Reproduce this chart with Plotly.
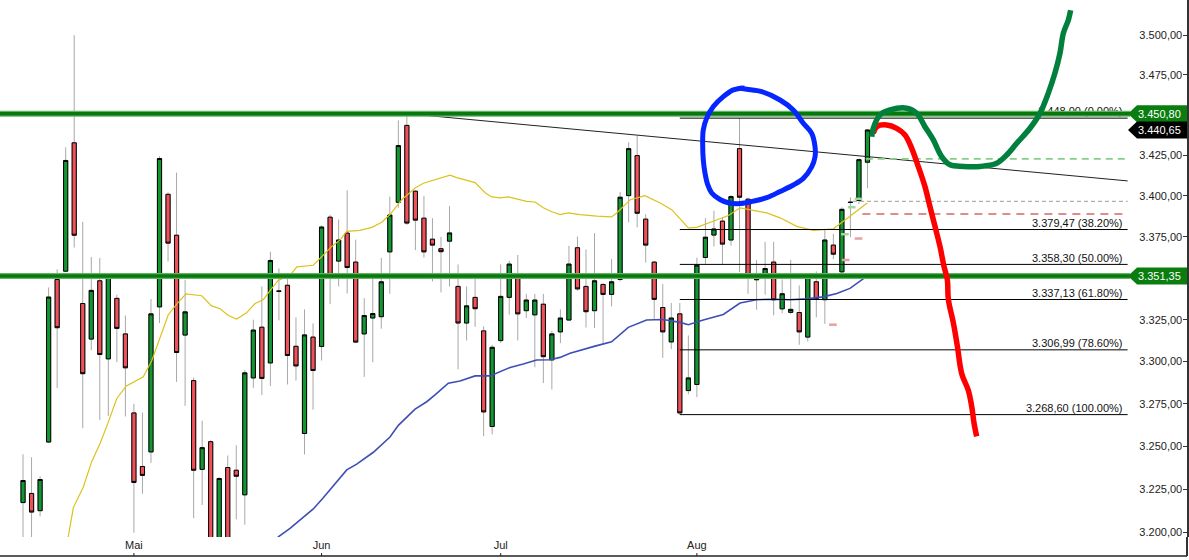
import math
import pandas as pd
import plotly.graph_objects as go

# ---------------- data ----------------
dates = [d.strftime("%Y-%m-%d") for d in pd.bdate_range("2025-04-11", "2025-08-29")
         if d.strftime("%Y-%m-%d") != "2025-04-18"]

opens = [3217.2, 3222.5, 3212.5, 3252.5, 3349.2, 3354.2, 3432.7, 3334.7, 3313.4, 3348.4,
         3301.6, 3337.8, 3316.5, 3269.6, 3238.2, 3246.7, 3332.7, 3401.0, 3376.0, 3315.8,
         3288.7, 3236.5, 3252.7, 3180.0, 3237.6, 3236.0, 3221.7, 3290.3, 3320.5, 3299.2,
         3342.3, 3345.7, 3309.1, 3257.5, 3314.6, 3309.0, 3387.0, 3360.3, 3377.3, 3359.7,
         3316.5, 3326.0, 3326.8, 3365.9, 3396.1, 3443.5, 3402.9, 3386.4, 3373.6, 3367.8,
         3372.4, 3345.0, 3323.0, 3338.4, 3318.3, 3261.6, 3312.5, 3338.4, 3351.1, 3330.4,
         3327.9, 3334.3, 3301.0, 3317.7, 3324.8, 3368.4, 3345.0, 3330.4, 3346.2, 3340.2,
         3349.2, 3400.2, 3424.8, 3385.8, 3359.7, 3332.3, 3311.7, 3328.5, 3282.8, 3286.4,
         3362.5, 3376.1, 3384.6, 3373.1, 3429.1, 3398.0, 3350.0, 3351.7, 3359.7, 3331.5,
         3329.4, 3329.3, 3314.6, 3347.8, 3337.0, 3370.0, 3353.8, 3396.2, 3397.2, 3420.7]
highs = [3245.3, 3243.6, 3232.5, 3344.4, 3355.3, 3429.9, 3500.0, 3384.2, 3362.8, 3362.2,
         3351.8, 3340.0, 3327.5, 3275.0, 3269.8, 3337.4, 3424.4, 3402.2, 3414.3, 3349.0,
         3290.5, 3265.0, 3253.5, 3231.8, 3244.6, 3250.6, 3295.0, 3325.0, 3345.0, 3366.0,
         3355.9, 3350.0, 3326.4, 3331.2, 3322.8, 3382.0, 3388.5, 3385.5, 3403.5, 3373.3,
         3338.0, 3349.6, 3362.2, 3399.6, 3446.6, 3450.8, 3403.5, 3400.0, 3386.4, 3375.0,
         3393.8, 3358.3, 3345.0, 3351.0, 3321.0, 3310.0, 3358.3, 3360.5, 3364.0, 3340.5,
         3340.5, 3340.5, 3318.4, 3331.2, 3369.6, 3375.2, 3367.3, 3377.3, 3346.8, 3361.6,
         3402.4, 3433.0, 3437.0, 3388.8, 3360.3, 3346.4, 3335.0, 3335.0, 3315.6, 3362.4,
         3386.4, 3390.9, 3387.0, 3400.6, 3448.0, 3399.0, 3361.0, 3372.0, 3372.0, 3349.2,
         3361.0, 3345.6, 3351.7, 3354.1, 3379.5, 3376.8, 3393.0, 3399.1, 3423.0, 3441.0]
lows = [3190.0, 3190.0, 3209.2, 3252.0, 3284.3, 3353.6, 3368.5, 3260.6, 3306.8, 3265.5,
        3267.8, 3299.6, 3267.5, 3199.8, 3222.3, 3240.3, 3323.0, 3360.0, 3287.9, 3273.8,
        3208.2, 3215.8, 3165.0, 3125.0, 3155.0, 3207.5, 3204.4, 3284.4, 3280.2, 3285.5,
        3324.6, 3286.4, 3288.7, 3245.2, 3271.5, 3300.6, 3334.3, 3345.0, 3340.7, 3311.0,
        3290.9, 3299.6, 3319.6, 3340.5, 3392.8, 3382.3, 3367.0, 3362.4, 3348.0, 3341.4,
        3345.0, 3295.4, 3312.6, 3320.7, 3255.9, 3257.0, 3311.0, 3328.0, 3312.6, 3326.0,
        3296.6, 3287.3, 3283.4, 3311.0, 3324.5, 3342.4, 3320.3, 3320.0, 3310.0, 3333.0,
        3348.0, 3383.8, 3380.8, 3359.4, 3325.4, 3302.2, 3307.4, 3268.6, 3280.6, 3278.9,
        3357.9, 3369.2, 3358.5, 3369.6, 3353.6, 3340.5, 3331.0, 3340.0, 3327.6, 3328.9,
        3328.5, 3310.0, 3312.0, 3326.4, 3322.5, 3361.5, 3350.6, 3374.8, 3395.0, 3404.7]
closes = [3230.0, 3211.7, 3230.6, 3338.6, 3320.2, 3421.8, 3376.0, 3292.8, 3342.6, 3304.2,
          3351.2, 3319.8, 3296.3, 3228.9, 3233.0, 3328.5, 3423.0, 3371.2, 3305.4, 3329.7,
          3236.0, 3249.2, 3178.0, 3231.2, 3190.0, 3232.5, 3293.3, 3318.8, 3290.0, 3360.7,
          3342.0, 3303.6, 3297.4, 3315.9, 3294.7, 3381.0, 3351.9, 3373.1, 3356.4, 3311.6,
          3327.5, 3328.7, 3347.8, 3388.3, 3431.0, 3383.4, 3385.2, 3365.9, 3370.0, 3366.0,
          3377.4, 3323.0, 3333.3, 3331.6, 3270.2, 3308.5, 3339.0, 3358.5, 3328.5, 3336.8,
          3336.8, 3302.9, 3316.5, 3326.0, 3358.5, 3343.5, 3329.8, 3348.4, 3340.2, 3347.8,
          3399.2, 3429.1, 3389.4, 3370.0, 3337.2, 3317.7, 3326.0, 3269.6, 3290.3, 3357.9,
          3374.8, 3379.8, 3370.6, 3399.6, 3399.2, 3351.7, 3349.0, 3355.8, 3337.0, 3340.6,
          3331.2, 3317.7, 3350.5, 3337.6, 3373.1, 3364.5, 3391.8, 3396.0, 3422.3, 3440.65]

# moving averages (read points: candle position, value)
ma_fast_x = [5.0, 5.3, 5.9, 7.07, 8.05, 9.03, 10.0, 10.98, 12.07, 14.1, 15.1, 16.06, 17.03, 18.02, 19.1,
             20.95, 22.1, 23.1, 24.07, 25.05, 26.2, 27.2, 28.17, 28.96, 29.9, 31.3, 32.1, 34.03, 35.2,
             36.2, 37.2, 37.95, 39.5, 40.9, 42.05, 43.02, 44.4, 45.96, 46.93, 48.1, 50.06, 50.84, 53.0,
             54.2, 54.95, 55.9, 56.9, 59.05, 60.02, 61.0, 62.0, 62.96, 63.93, 65.3, 67.26, 69.0, 69.6,
             71.2, 72.9, 74.7, 76.05, 78.0, 78.98, 80.9, 82.7, 84.06, 85.6, 87.2, 88.75, 90.7, 92.65,
             95.0, 96.95, 98.9, 99.0]
ma_fast_y = [3192, 3197.4, 3214.3, 3226.3, 3241, 3251.6, 3264.2, 3278, 3285.4, 3291, 3300.6, 3314, 3328,
             3334.3, 3340.5, 3339.4, 3333.3, 3331.6, 3327.5, 3325.4, 3329.1, 3334.7, 3337, 3342.5,
             3348.6, 3351.6, 3356.8, 3357.8, 3364, 3369.2, 3373.3, 3378.4, 3379, 3380.8, 3383.9,
             3388.6, 3397.7, 3404.8, 3407.8, 3409.8, 3412.8, 3411.2, 3408.2, 3401.8, 3399.4, 3398.8,
             3399.4, 3396.7, 3396.3, 3392.7, 3390.3, 3388.6, 3389.6, 3388.6, 3387.6, 3387.2, 3389.6,
             3397.7, 3400.2, 3395.7, 3391.6, 3380.5, 3380.8, 3384.5, 3388, 3392.7, 3391.2, 3389.6,
             3386.6, 3381.4, 3379, 3379.9, 3387.6, 3395.4, 3395.2]
ma_slow_x = [29.5, 29.93, 31.3, 34.03, 35.2, 36.38, 37.95, 39.12, 41.07, 43.02, 44.0, 45.96, 47.33, 48.3,
             49.86, 51.23, 53.0, 54.75, 57.1, 58.65, 60.2, 61.8, 62.96, 64.13, 66.47, 67.06, 69.0, 70.96,
             73.1, 75.07, 77.02, 78.0, 79.75, 82.1, 84.06, 86.0, 87.96, 89.9, 91.88, 93.8, 95.4, 96.95,
             98.9, 99.0]
ma_slow_y = [3194, 3197.4, 3202.3, 3213.5, 3220, 3226.8, 3236.2, 3239.6, 3246.5, 3255.4, 3262.3, 3271.8,
             3276.2, 3280.2, 3287.2, 3288.5, 3291.5, 3291.5, 3296.5, 3298.5, 3300.9, 3301.1, 3302.5,
             3304.9, 3308.6, 3309.2, 3311.8, 3320.4, 3324.8, 3325.1, 3323.4, 3322, 3324.8, 3328.1,
             3335, 3337, 3337.3, 3337, 3337.5, 3338.7, 3340.7, 3343.8, 3351, 3351.4]

# levels
level_lines = [3450.80, 3351.35]
last_price = 3440.65
fib_start = "2025-07-30"
fib_levels = [3448.00, 3379.47, 3358.30, 3337.13, 3306.99, 3268.60]
fib_pcts = ["0.00%", "38.20%", "50.00%", "61.80%", "78.60%", "100.00%"]
trend_x = [45, 129.5]
trend_y = [3450.8, 3409.2]
dash_levels = [3422.8, 3396.7, 3389.0]
dash_starts = [98.8, 97.3, 98.4]
marks_x0 = [94.5, 97.5, 96.7, 95.9, 96.0, 97.5, 95.9]
marks_y = [3322.0, 3374.0, 3393.1, 3376.6, 3361.0, 3398.2, 3350.4]
marks_c = ["#e8a0a0", "#e8a0a0", "#9fd89f", "#9fd89f", "#e8a0a0", "#9fd89f", "#d9b3a0"]

# hand-drawn annotations (position on candle scale, price)
circle_x = [84.06, 84.84, 86.6, 88.75, 90.3, 91.48, 92.46, 92.85, 92.85, 92.46, 91.48, 90.3, 88.75, 87.19,
            85.62, 84.06, 82.69, 81.71, 80.74, 80.27, 79.95, 79.75, 79.68, 79.75, 80.15, 80.93, 82.1,
            83.27, 84.6]
circle_y = [3466.6, 3466.0, 3464.5, 3459.3, 3453.1, 3444.8, 3438.6, 3430.3, 3424.0, 3417.8, 3410.8,
            3406.7, 3402.7, 3398.9, 3396.8, 3395.3, 3395.8, 3397.8, 3401.8, 3406.9, 3414.1, 3422.2,
            3432.5, 3440.7, 3448.0, 3455.2, 3461.4, 3465.6, 3466.8]
bull_x = [99.5, 99.68, 100.47, 101.64, 103.6, 104.77, 105.74, 106.72, 107.7, 108.68, 110.24, 112.19,
          114.15, 115.32, 116.5, 118.05, 119.23, 120.2, 120.98, 121.57, 121.96, 122.54, 122.82]
bull_y = [3436.5, 3441.7, 3450.0, 3453.1, 3454.2, 3451.1, 3442.7, 3434.5, 3424.2, 3419.1, 3418.1,
          3418.1, 3420.1, 3425.2, 3432.4, 3441.7, 3451.1, 3463.6, 3476.1, 3488.6, 3501.1, 3509.4, 3515.7]
bear_x = [99.68, 100.08, 101.25, 102.43, 103.4, 104.19, 104.96, 105.74, 106.33, 106.92, 107.5, 107.97,
          108.36, 108.48, 109.06, 109.53, 110.05, 110.82, 111.22, 111.49, 111.8]
bear_y = [3438.6, 3442.7, 3443.8, 3441.7, 3437.6, 3429.3, 3418.0, 3405.7, 3393.4, 3381.3, 3369.2,
          3357.1, 3349.1, 3337.2, 3323.3, 3309.5, 3292.8, 3283.0, 3273.4, 3263.7, 3255.8]

month_starts = ["2025-05-01", "2025-06-02", "2025-07-01", "2025-08-01"]
month_labels = ["Mai", "Jun", "Jul", "Aug"]
y_ticks = [3200, 3225, 3250, 3275, 3300, 3325, 3375, 3400, 3425, 3475, 3500]

# ---------------- layout constants ----------------
W, H = 1189, 560
PLOT_W, PLOT_H = 1187, 537
X_RANGE = [-2.70, 136.46]
CONTENT_END = 129.5
Y_RANGE_PRICE = [3197.3, 3522.2]
LOG_LO, LOG_HI = math.log10(Y_RANGE_PRICE[0]), math.log10(Y_RANGE_PRICE[1])
FONT = "Liberation Sans, Arial, sans-serif"
GREEN, RED = "#129632", "#f0505a"


def de(v):
    s = f"{v:,.2f}"
    return s.replace(",", "X").replace(".", ",").replace("X", ".")


def ypaper(v):
    return (math.log10(v) - LOG_LO) / (LOG_HI - LOG_LO)


x = list(range(len(dates)))
body_hi = [max(o, c) for o, c in zip(opens, closes)]
body_lo = [min(o, c) for o, c in zip(opens, closes)]

fig = go.Figure()

# moving averages (behind candles)
fig.add_trace(go.Scatter(x=ma_fast_x, y=ma_fast_y, mode="lines",
                         line=dict(color="#dcc21c", width=1.2), hoverinfo="skip"))
fig.add_trace(go.Scatter(x=ma_slow_x, y=ma_slow_y, mode="lines",
                         line=dict(color="#3d4fb5", width=1.6), hoverinfo="skip"))

# wicks
fig.add_trace(go.Candlestick(x=x, open=opens, high=highs, low=lows, close=closes,
                             increasing=dict(line=dict(color="#a8a8a8", width=1), fillcolor="#a8a8a8"),
                             decreasing=dict(line=dict(color="#a8a8a8", width=1), fillcolor="#a8a8a8"),
                             hoverinfo="skip", showlegend=False))
# bodies
fig.add_trace(go.Candlestick(x=x, open=opens, high=body_hi, low=body_lo, close=closes,
                             text=dates,
                             increasing=dict(line=dict(color="#000000", width=1), fillcolor=GREEN),
                             decreasing=dict(line=dict(color="#000000", width=1), fillcolor=RED),
                             showlegend=False))

# fibonacci lines
fx0 = dates.index(fib_start)
for lvl, pct in zip(fib_levels, fib_pcts):
    fig.add_trace(go.Scatter(x=[fx0, CONTENT_END], y=[lvl, lvl], mode="lines",
                             line=dict(color="#000000", width=1), hoverinfo="skip"))
    fig.add_trace(go.Scatter(x=[128.9], y=[lvl], mode="text", text=[f"{de(lvl)} ({pct})"],
                             textposition="top left",
                             textfont=dict(family=FONT, size=11, color="#111"), hoverinfo="skip"))

# trend line
fig.add_trace(go.Scatter(x=trend_x, y=trend_y, mode="lines",
                         line=dict(color="#222222", width=1), hoverinfo="skip"))

# dashed order lines
fig.add_trace(go.Scatter(x=[dash_starts[0], CONTENT_END], y=[dash_levels[0]] * 2, mode="lines",
                         line=dict(color="#86d086", width=1.6, dash="7px,5px"), hoverinfo="skip"))
fig.add_trace(go.Scatter(x=[dash_starts[1], CONTENT_END], y=[dash_levels[1]] * 2, mode="lines",
                         line=dict(color="#9a9a9a", width=1, dash="4px,3px"), hoverinfo="skip"))
fig.add_trace(go.Scatter(x=[dash_starts[2], CONTENT_END], y=[dash_levels[2]] * 2, mode="lines",
                         line=dict(color="#e08c8c", width=2, dash="8px,6px"), hoverinfo="skip"))
for mx, my, mc in zip(marks_x0, marks_y, marks_c):
    fig.add_trace(go.Scatter(x=[mx, mx + 0.9], y=[my, my], mode="lines",
                             line=dict(color=mc, width=2.5), hoverinfo="skip"))

# thick horizontal green levels
for lvl in level_lines:
    fig.add_trace(go.Scatter(x=[X_RANGE[0], CONTENT_END + 0.3], y=[lvl, lvl], mode="lines",
                             line=dict(color="#62b462", width=6), hoverinfo="skip"))
    fig.add_trace(go.Scatter(x=[X_RANGE[0], CONTENT_END + 0.3], y=[lvl, lvl], mode="lines",
                             line=dict(color="#07780e", width=3.5), hoverinfo="skip"))

# hand-drawn scenario curves
fig.add_trace(go.Scatter(x=bear_x, y=bear_y, mode="lines", line=dict(color="#ff0000", width=5.5, shape="spline"),
                         hoverinfo="skip"))
fig.add_trace(go.Scatter(x=bull_x, y=bull_y, mode="lines", line=dict(color="#00803c", width=5.5, shape="spline"),
                         hoverinfo="skip"))
fig.add_trace(go.Scatter(x=circle_x, y=circle_y, mode="lines", line=dict(color="#0626ff", width=5, shape="spline"),
                         hoverinfo="skip"))

# price boxes on the axis
shapes = []
annotations = []
tip, bx0, bx1 = 1128 / PLOT_W, 1137 / PLOT_W, 1.0
hh = 8.5 / PLOT_H
for val, col in [(level_lines[0], "#0a7d0f"), (last_price, "#000000"), (level_lines[1], "#0a7d0f")]:
    yc = ypaper(val)
    shapes.append(dict(type="path", xref="paper", yref="paper",
                       path=f"M {tip},{yc} L {bx0},{yc + hh} L {bx1},{yc + hh} L {bx1},{yc - hh} L {bx0},{yc - hh} Z",
                       fillcolor=col, line=dict(width=0), layer="above"))
    annotations.append(dict(xref="paper", yref="paper", x=1159 / PLOT_W, y=yc, text=de(val), showarrow=False,
                            xanchor="center", yanchor="middle",
                            font=dict(family=FONT, size=11, color="#ffffff")))

# x axis base line + small tick marks below the label strip
y_base = -(556 - PLOT_H) / PLOT_H
shapes.append(dict(type="line", xref="paper", yref="paper", x0=0, x1=1, y0=y_base, y1=y_base,
                   line=dict(color="#222", width=1.5)))
shapes.append(dict(type="line", xref="paper", yref="paper", x0=1, x1=1, y0=y_base, y1=0,
                   line=dict(color="#333", width=2)))
tick_idx = [dates.index(d) for d in month_starts]
for ti in tick_idx:
    shapes.append(dict(type="line", xref="x", yref="paper", x0=ti, x1=ti, y0=y_base, y1=y_base + 3 / PLOT_H,
                       line=dict(color="#222", width=1)))

fig.update_layout(
    width=W, height=H,
    margin=dict(l=0, r=W - PLOT_W, t=0, b=H - PLOT_H),
    paper_bgcolor="white", plot_bgcolor="white",
    showlegend=False,
    boxgap=0.3, boxgroupgap=0.3,
    shapes=shapes, annotations=annotations,
    font=dict(family=FONT, size=11, color="#222"),
    xaxis=dict(range=X_RANGE, rangeslider=dict(visible=False), showgrid=False, zeroline=False,
               tickmode="array", tickvals=tick_idx, ticktext=month_labels, ticks="",
               tickfont=dict(family=FONT, size=11, color="#222"), showline=False),
    yaxis=dict(type="log", range=[LOG_LO, LOG_HI], side="right", showgrid=False, zeroline=False,
               tickmode="array", tickvals=y_ticks, ticktext=[de(v) for v in y_ticks],
               ticks="inside", ticklen=4, tickcolor="#333", ticklabelposition="inside",
               ticklabeloverflow="allow",
               tickfont=dict(family=FONT, size=11, color="#222"),
               showline=True, linecolor="#333", linewidth=2),
)

fig.write_html("out.html", config={"displayModeBar": False},
               post_script="document.body.style.margin='0px';document.body.style.overflow='hidden';")
